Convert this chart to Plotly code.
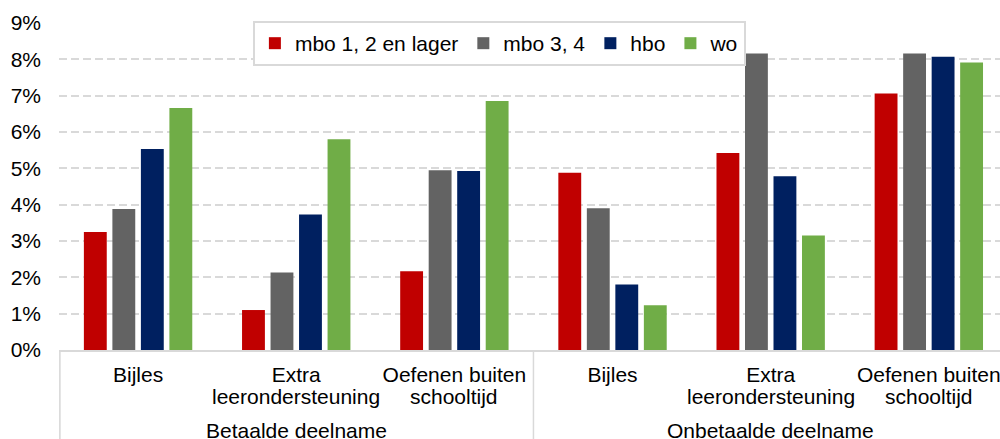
import plotly.graph_objects as go

groups = ["Betaalde deelname", "Onbetaalde deelname"]
act_line1 = ["Bijles", "Extra", "Oefenen buiten"] * 2
act_line2 = ["", "leerondersteuning", "schooltijd"] * 2

mbo_12 = [3.25, 1.10, 2.17, 4.88, 5.42, 7.06]
mbo_34 = [3.88, 2.13, 4.95, 3.90, 8.16, 8.16]
hbo = [5.53, 3.73, 4.93, 1.80, 4.78, 8.07]
wo = [6.66, 5.80, 6.85, 1.23, 3.15, 7.91]

series = [("mbo 1, 2 en lager", mbo_12, "#C00000"),
          ("mbo 3, 4", mbo_34, "#636363"),
          ("hbo", hbo, "#002060"),
          ("wo", wo, "#70AD47")]

font = "Liberation Sans, Arial, sans-serif"
line_col = "#d9d9d9"

xpos = list(range(len(act_line1)))
per_group = len(act_line1) // len(groups)

traces = [go.Bar(x=xpos, y=vals, name=name, marker=dict(color=color, line=dict(width=0)))
          for name, vals, color in series]

fig = go.Figure(data=traces)

# second line of the category labels (tighter line spacing than plotly's <br>)
for x, txt in zip(xpos, act_line2):
    if txt:
        fig.add_annotation(x=x, xref="x", y=-0.1437, yref="paper", text=txt, showarrow=False,
                           yanchor="middle", font=dict(size=21))

# group labels under the category labels, and divider lines between the groups
for i, g in enumerate(groups):
    fig.add_annotation(x=i * per_group + (per_group - 1) / 2, xref="x", y=-0.247, yref="paper",
                       text=g, showarrow=False, yanchor="middle", font=dict(size=21))
    fig.add_shape(type="line", xref="x", yref="paper", x0=i * per_group - 0.5, x1=i * per_group - 0.5,
                  y0=0, y1=-0.3, line=dict(color=line_col, width=1.5))
fig.add_shape(type="line", xref="paper", yref="paper", x0=0.001, x1=0.001, y0=0, y1=-0.3,
              line=dict(color=line_col, width=1.5))

fig.update_layout(
    width=1000, height=439,
    margin=dict(l=59, r=0, t=23, b=89, autoexpand=False),
    paper_bgcolor="white", plot_bgcolor="white",
    font=dict(family=font, size=21, color="#000000"),
    barmode="group", bargap=0.279, bargroupgap=0.198,
    legend=dict(orientation="h", x=0.468, xanchor="center", y=1.006, yanchor="top",
                bgcolor="white", bordercolor=line_col, borderwidth=2,
                font=dict(size=21), itemwidth=30, tracegroupgap=0),
    xaxis=dict(range=[-0.5, 5.45], tickvals=xpos, ticktext=act_line1, showline=True, linecolor=line_col,
               linewidth=1.5, showgrid=False, zeroline=False, tickangle=0, ticklabeloverflow="allow",
               ticklabelstandoff=5, automargin=False, tickfont=dict(size=21)),
    yaxis=dict(range=[0, 9], dtick=1, ticksuffix="%", showgrid=True, gridcolor=line_col, gridwidth=1.5,
               griddash="8px,4px", zeroline=False, showline=False, ticklabelstandoff=17,
               automargin=False, tickfont=dict(size=21)),
)

# page body has an 8px default margin; drop it so the chart fills the window
fig.write_html("out.html", config={"displayModeBar": False},
               post_script="document.body.style.margin='0';document.body.style.overflow='hidden';")
